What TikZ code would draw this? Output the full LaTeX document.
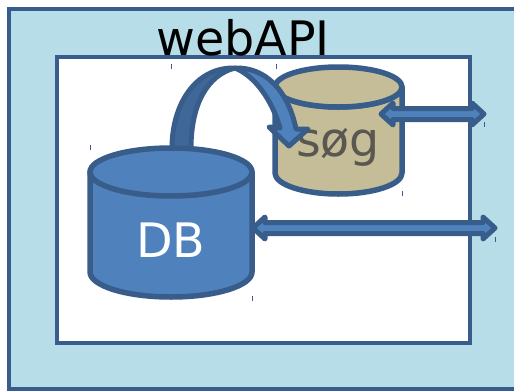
\documentclass[tikz,border=0pt]{standalone}
\usepackage{fontspec}
\setmainfont{DejaVu Sans}
\definecolor{edgeblue}{HTML}{385D8A}
\definecolor{fillblue}{HTML}{4F81BD}
\definecolor{darkblue}{HTML}{3F6797}
\definecolor{pale}{HTML}{B7DDE8}
\definecolor{tan}{HTML}{C4BD97}
\definecolor{soggrey}{HTML}{5A5650}
\tikzset{
  x=1pt,y=-1pt,
  frame/.style={draw=edgeblue,line width=4.5pt,line join=miter},
  solid part/.style={draw=edgeblue,line width=5.5pt,line join=round},
  blockarrow/.style={draw=edgeblue,fill=fillblue,line width=5pt,line join=round},
  tick mark/.style={draw=edgeblue,line width=.7pt},
}
\begin{document}
\begin{tikzpicture}
\useasboundingbox (0,0) rectangle (514,391);
\fill[white] (0,0) rectangle (514,391);
\path[frame,fill=pale] (9,9) rectangle (530,389);
\path[frame,fill=white] (57,57) rectangle (470,343);
% tick marks
\foreach \px/\py in {171/64,276/64,90/145,252/296,402/191,484/122,495/237}
  \draw[tick mark] (\px,\py) -- (\px,\py+5);
% sog cylinder
\path[solid part,fill=tan] (275,87) -- (275,173) arc[start angle=180,end angle=360,x radius=63.5,y radius=-21] -- (402,87) arc[start angle=0,end angle=180,x radius=63.5,y radius=20] -- cycle;
\path[solid part,fill=tan] (338.5,87) ellipse[x radius=63.5,y radius=20];
\node[text=soggrey,font=\fontsize{47.5}{47.5}\selectfont] (sog) at (338,147) {søg};
% DB cylinder
\path[solid part,fill=fillblue] (90,172) -- (90,272) arc[start angle=180,end angle=360,x radius=81,y radius=-25] -- (252,172) -- cycle;
\path[solid part,fill=fillblue] (171,172) ellipse[x radius=81,y radius=24];
\node[text=white,font=\fontsize{47.5}{47.5}\selectfont] (db) at (171,240) {DB};
% curved arrow: back part
\path[blockarrow,fill=darkblue] (172,148) .. controls (172,105) and (195,67) .. (235,68)
  .. controls (207,75) and (191,105) .. (191,148) -- cycle;
% curved arrow: front part
\path[blockarrow] (235,68) .. controls (265,67) and (288,90) .. (296,129)
  -- (308,129) -- (289,146) -- (269,127) -- (280,128)
  .. controls (272,100) and (255,76) .. (235,68) -- cycle;
% double arrows
\coordinate (s1) at (381,114);
\coordinate (e1) at (484,114);
\path[blockarrow] (s1) -- (393,103) -- (393,108.5) -- (472,108.5) -- (472,103) -- (e1)
  -- (472,125) -- (472,119.5) -- (393,119.5) -- (393,125) -- cycle;
\coordinate (s2) at (253,228);
\coordinate (e2) at (495,228);
\path[blockarrow] (s2) -- (265,217) -- (265,222.5) -- (483,222.5) -- (483,217) -- (e2)
  -- (483,239) -- (483,233.5) -- (265,233.5) -- (265,239) -- cycle;
\node[text=black,font=\fontsize{47.5}{47.5}\selectfont,anchor=base] (api) at (243,55) {webAPI};
\end{tikzpicture}
\end{document}
